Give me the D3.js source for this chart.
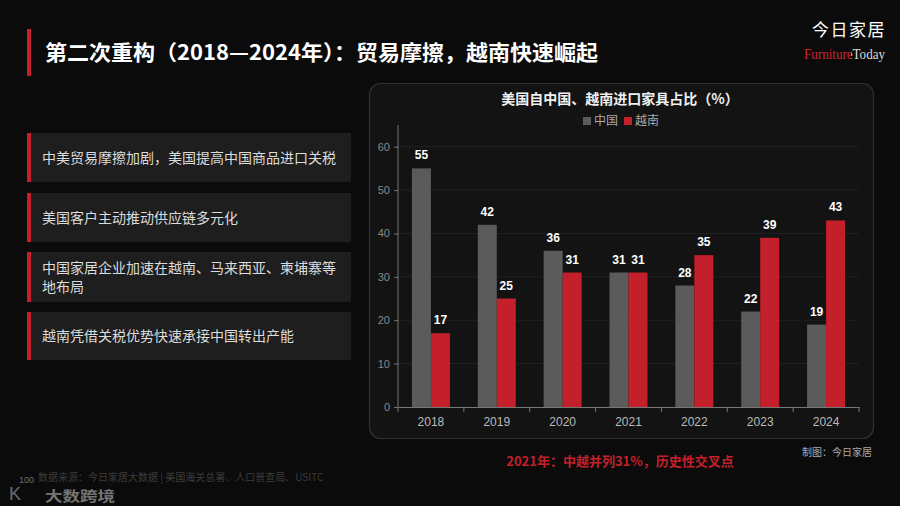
<!DOCTYPE html>
<html><head><meta charset="utf-8">
<script src="https://cdn.jsdelivr.net/npm/d3@7"></script>
<style>
html,body{margin:0;padding:0;background:#0b0b0b;}
svg{display:block;font-family:"Noto Sans CJK SC","Noto Sans",sans-serif;}
</style></head>
<body>
<script>
const years = ["2018","2019","2020","2021","2022","2023","2024"];
const chinaShare = [55,42,36,31,28,22,19];
const vietnamShare = [17,25,31,31,35,39,43];
const seriesNames = ["中国","越南"];
const yTicks = [0,10,20,30,40,50,60];
const bulletPoints = [
  ["中美贸易摩擦加剧，美国提高中国商品进口关税"],
  ["美国客户主动推动供应链多元化"],
  ["中国家居企业加速在越南、马来西亚、柬埔寨等","地布局"],
  ["越南凭借关税优势快速承接中国转出产能"]
];
const pageTitle = "第二次重构（2018—2024年）：贸易摩擦，越南快速崛起";
const chartTitle = "美国自中国、越南进口家具占比（%）";
const noteText = "2021年：中越并列31%，历史性交叉点";
const creditText = "制图：今日家居";
const sourceText = "数据来源：今日家居大数据 | 美国海关总署、人口普查局、USITC";

const W=900,H=506;
const GRAY="#5b5b5b", RED="#c4202b";
const LAT="'Liberation Sans',Arial,sans-serif";
const SERIF="'Liberation Serif','DejaVu Serif',serif";
const svg=d3.select("body").append("svg").attr("width",W).attr("height",H);
const defs=svg.append("defs");
const gr=defs.append("linearGradient").attr("id","ftGrad").attr("x1","0").attr("x2","1").attr("y1","0").attr("y2","0");
gr.append("stop").attr("offset","0.575").attr("stop-color","#d3232b");
gr.append("stop").attr("offset","0.575").attr("stop-color","#dddddd");
svg.append("rect").attr("width",W).attr("height",H).attr("fill","#0b0b0b");

// title
svg.append("rect").attr("x",27).attr("y",29).attr("width",4).attr("height",47).attr("fill",RED);
svg.append("text").attr("x",45).attr("y",60).attr("fill","#fff").attr("font-size",21).attr("font-weight","bold")
  .attr("textLength",553).attr("lengthAdjust","spacingAndGlyphs").text(pageTitle);

// logo
svg.append("text").attr("x",886).attr("y",36).attr("text-anchor","end").attr("fill","#fff").attr("font-size",17).attr("letter-spacing",1.5).text("今日家居");
svg.append("text").attr("x",804).attr("y",59).attr("font-size",14).attr("fill","url(#ftGrad)").style("font-family",SERIF)
  .attr("textLength",81).attr("lengthAdjust","spacingAndGlyphs").text("FurnitureToday");

// bullet boxes
const boxY=[133,193,252,312], boxH=[49,49,50,48];
bulletPoints.forEach((lines,i)=>{
  svg.append("rect").attr("x",27).attr("y",boxY[i]).attr("width",324).attr("height",boxH[i]).attr("fill","#1e1e1e");
  svg.append("rect").attr("x",27).attr("y",boxY[i]).attr("width",4).attr("height",boxH[i]).attr("fill",RED);
  const cy=boxY[i]+boxH[i]/2;
  lines.forEach((l,j)=>{
    const y = cy + (j-(lines.length-1)/2)*19 + 5;
    svg.append("text").attr("x",42).attr("y",y).attr("fill","#dcdcdc").attr("font-size",14).text(l);
  });
});

// chart panel
svg.append("rect").attr("x",369.5).attr("y",83.5).attr("width",504).attr("height",355).attr("rx",11)
  .attr("fill","#131313").attr("stroke","#303030").attr("stroke-width",1.2);
svg.append("text").attr("x",620).attr("y",104).attr("text-anchor","middle").attr("fill","#f0f0f0")
  .attr("font-size",14).attr("font-weight","bold").text(chartTitle);

// legend
const lg=svg.append("g");
[[583,GRAY,seriesNames[0],594],[624,RED,seriesNames[1],635]].forEach(d=>{
  lg.append("rect").attr("x",d[0]).attr("y",117).attr("width",8).attr("height",8).attr("fill",d[1]);
  lg.append("text").attr("x",d[3]).attr("y",125).attr("fill","#aaa").attr("font-size",12).text(d[2]);
});

const x0=398,x1=859,y0=407,yTop=125;
const x=d3.scaleBand().domain(years).range([x0,x1]);
const y=d3.scaleLinear().domain([0,65]).range([y0,yTop]);
const groupW=38;
const xs=d3.scaleBand().domain(seriesNames).range([0,groupW]);

// grid
svg.append("g").selectAll("line").data(yTicks.filter(t=>t>0)).join("line")
  .attr("x1",x0).attr("x2",x1).attr("y1",d=>y(d)).attr("y2",d=>y(d)).attr("stroke","#222").attr("stroke-width",1);

// bars
const data=years.map((yr,i)=>({yr,vals:[chinaShare[i],vietnamShare[i]]}));
const g=svg.append("g").selectAll("g").data(data).join("g")
  .attr("transform",d=>`translate(${x(d.yr)+x.bandwidth()/2-groupW/2},0)`);
g.selectAll("rect").data(d=>d.vals.map((v,k)=>({v,k}))).join("rect")
  .attr("x",d=>xs(seriesNames[d.k])).attr("width",xs.bandwidth())
  .attr("y",d=>y(d.v)).attr("height",d=>y0-y(d.v)).attr("fill",d=>d.k?RED:GRAY);
g.selectAll("text").data(d=>d.vals.map((v,k)=>({v,k}))).join("text")
  .attr("x",d=>xs(seriesNames[d.k])+xs.bandwidth()/2).attr("y",d=>y(d.v)-9)
  .attr("text-anchor","middle").attr("fill","#fff").attr("font-size",12).attr("font-weight","bold")
  .style("font-family",LAT).text(d=>d.v);

// axes
const ya=svg.append("g").attr("transform",`translate(${x0},0)`)
  .call(d3.axisLeft(y).tickValues(yTicks).tickSize(4).tickPadding(4));
ya.select(".domain").attr("stroke","#777").attr("d",`M0,${y0}V${yTop}`);
ya.selectAll(".tick line").attr("stroke","#777");
ya.selectAll("text").attr("fill","#888").attr("font-size",11).style("font-family",LAT);

const xa=svg.append("g").attr("transform",`translate(0,${y0})`)
  .call(d3.axisBottom(x).tickSize(0).tickPadding(10));
xa.select(".domain").attr("stroke","#777");
xa.selectAll("text").attr("fill","#bbb").attr("font-size",12).style("font-family",LAT);
svg.append("g").selectAll("line").data(years.map(d=>x(d)).concat([x1])).join("line")
  .attr("x1",d=>d).attr("x2",d=>d).attr("y1",y0).attr("y2",y0+5).attr("stroke","#777");

// notes
svg.append("text").attr("x",872).attr("y",456).attr("text-anchor","end").attr("fill","#aaa").attr("font-size",10).text(creditText);
svg.append("text").attr("x",620).attr("y",466).attr("text-anchor","middle").attr("fill",RED).attr("font-size",13).attr("font-weight","bold").text(noteText);
svg.append("text").attr("x",38).attr("y",481).attr("fill","#3c3c3c").attr("font-size",10).text(sourceText);

// watermark
const wm=svg.append("g").attr("opacity",0.55);
wm.append("text").attr("x",9).attr("y",500).attr("fill","#bbb").attr("font-size",18).style("font-family",LAT).text("K");
wm.append("text").attr("x",19).attr("y",483).attr("fill","#bbb").attr("font-size",9).style("font-family",LAT).text("100");
wm.append("text").attr("x",45).attr("y",501).attr("fill","#ccc").attr("font-size",14).attr("font-weight","bold")
  .attr("textLength",70).attr("lengthAdjust","spacingAndGlyphs").text("大数跨境");
</script>
</body></html>
